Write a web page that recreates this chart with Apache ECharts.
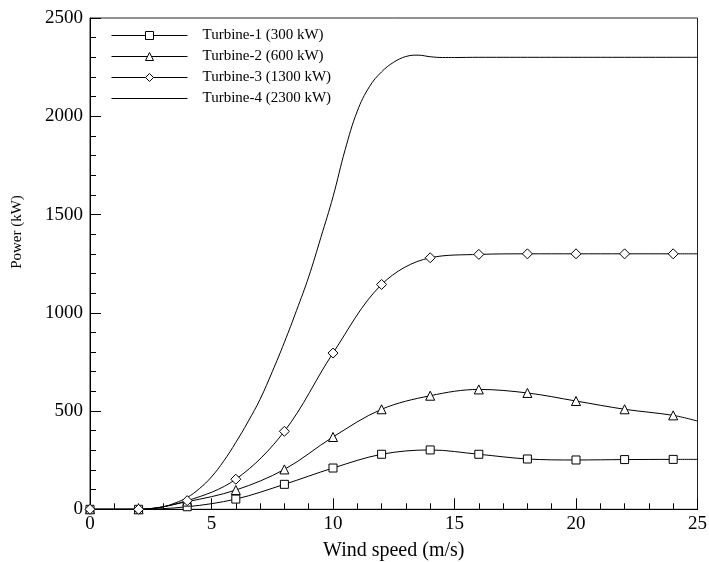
<!DOCTYPE html>
<html>
<head>
<meta charset="utf-8">
<script src="https://cdn.jsdelivr.net/npm/echarts@6/dist/echarts.min.js"></script>
<style>
html,body{margin:0;padding:0;background:#fff;}
#chart{width:709px;height:562px;}
</style>
</head>
<body>
<div id="chart"></div>
<script>
// Wind speeds of marked points (m/s)
var markSpeeds = [0, 2, 4, 6, 8, 10, 12, 14, 16, 18, 20, 22, 24, 25];
var turbine1 = [0, 0, 13, 52, 127, 210, 280, 302, 280, 256, 251, 253, 254, 254];
var turbine2 = [0, 0, 39, 98, 203, 368, 509, 578, 610, 592, 551, 509, 478, 449];
var turbine3 = [0, 0, 44, 153, 397, 795, 1144, 1280, 1297, 1300, 1300, 1300, 1300, 1300];
// Turbine-4 curve (no markers)
var speeds4 = [0, 1, 2, 2.5, 3, 3.5, 4, 4.5, 5, 5.5, 6, 6.5, 7, 7.5, 8, 8.5, 9, 9.5, 10, 10.5, 11, 11.5, 12, 12.5, 13, 13.5, 14, 14.5, 15, 16, 17, 18, 19, 20, 21, 22, 23, 24, 25];
var turbine4 = [0, 0, 0, 4, 12, 32, 60, 105, 165, 245, 340, 445, 560, 700, 850, 1012, 1183, 1383, 1590, 1830, 2026, 2151, 2226, 2275, 2304, 2311, 2303, 2299, 2299, 2300, 2300, 2300, 2300, 2300, 2300, 2300, 2300, 2300, 2300];
var seriesNames = ['Turbine-1 (300 kW)', 'Turbine-2 (600 kW)', 'Turbine-3 (1300 kW)', 'Turbine-4 (2300 kW)'];
var xTicks = [0, 5, 10, 15, 20, 25];
var yTicks = [0, 500, 1000, 1500, 2000, 2500];

var FONT = '"Liberation Serif", "Times New Roman", serif';

function markedData(vals) {
  return markSpeeds.map(function (x, i) {
    var item = { value: [x, vals[i]] };
    if (i === markSpeeds.length - 1) item.symbol = 'none';
    return item;
  });
}

function markedSeries(name, vals, symbol, size) {
  return {
    name: name,
    type: 'line',
    data: markedData(vals),
    smooth: 0.35,
    symbol: symbol,
    symbolSize: size,
    showAllSymbol: true,
    lineStyle: { color: '#000', width: 1 },
    itemStyle: { color: '#fff', borderColor: '#000', borderWidth: 1 },
    emphasis: { disabled: true },
    z: 3
  };
}

var chart = echarts.init(document.getElementById('chart'), null, { renderer: 'canvas' });
chart.setOption({
  animation: false,
  backgroundColor: '#fff',
  grid: { left: 90, right: 11.5, top: 18, bottom: 52.7, show: true, borderColor: '#222', borderWidth: 1,
    containLabel: false, outerBoundsMode: 'none' },
  legend: {
    left: 106, top: 23, orient: 'vertical',
    itemWidth: 76, itemHeight: 10, itemGap: 6,
    lineStyle: { width: 1, color: '#000' },
    itemStyle: { borderWidth: 1, borderColor: '#000', color: '#fff' },
    data: [
      { name: seriesNames[0] },
      { name: seriesNames[1] },
      { name: seriesNames[2] },
      { name: seriesNames[3], itemStyle: { opacity: 0 } }
    ],
    textStyle: { fontFamily: FONT, fontSize: 15, color: '#000', padding: [0, 0, 0, 10], lineHeight: 14 },
    selectedMode: false
  },
  xAxis: {
    type: 'value', min: 0, max: 25, interval: 5,
    name: 'Wind speed (m/s)', nameLocation: 'middle', nameGap: 31,
    nameTextStyle: { fontFamily: FONT, fontSize: 20, color: '#000' },
    axisLine: { show: true, onZero: false, lineStyle: { color: '#000', width: 1 } },
    axisTick: { show: true, inside: true, length: 11, lineStyle: { color: '#000' } },
    minorTick: { show: true, splitNumber: 5, length: 6, lineStyle: { color: '#000' } },
    axisLabel: { fontFamily: FONT, fontSize: 19, color: '#000', margin: 5,
      formatter: function (v) { return xTicks.indexOf(v) >= 0 ? String(v) : ''; } },
    splitLine: { show: false }
  },
  yAxis: {
    type: 'value', min: 0, max: 2500, interval: 500,
    axisLine: { show: true, onZero: false, lineStyle: { color: '#000', width: 1 } },
    axisTick: { show: true, inside: true, length: 11, lineStyle: { color: '#000' } },
    minorTick: { show: true, splitNumber: 5, length: 6, lineStyle: { color: '#000' } },
    axisLabel: { fontFamily: FONT, fontSize: 19, color: '#000', margin: 7,
      formatter: function (v) { return yTicks.indexOf(v) >= 0 ? String(v) : ''; } },
    splitLine: { show: false }
  },
  graphic: [{
    type: 'text', x: 17, y: 232, rotation: Math.PI / 2,
    style: { text: 'Power (kW)', fontFamily: FONT, fontSize: 15, fill: '#000',
      textAlign: 'center', textVerticalAlign: 'middle', align: 'center', verticalAlign: 'middle' }
  }],
  series: [
    markedSeries(seriesNames[0], turbine1, 'rect', 8),
    markedSeries(seriesNames[1], turbine2, 'triangle', 9),
    markedSeries(seriesNames[2], turbine3, 'diamond', 10),
    {
      name: seriesNames[3],
      type: 'line',
      data: speeds4.map(function (x, i) { return [x, turbine4[i]]; }),
      smooth: 0.4,
      symbol: 'none',
      lineStyle: { color: '#000', width: 1 },
      itemStyle: { color: '#000' },
      emphasis: { disabled: true },
      z: 2
    }
  ]
});
</script>
</body>
</html>
